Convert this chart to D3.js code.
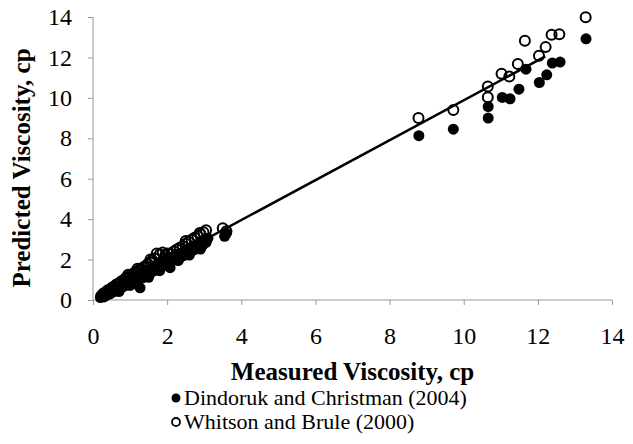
<!DOCTYPE html>
<html>
<head>
<meta charset="utf-8">
<script src="https://cdn.jsdelivr.net/npm/d3@7"></script>
<style>
  body { margin: 0; background: #fff; }
  svg, svg text { font-family: "Liberation Serif", "Times New Roman", serif; }
</style>
</head>
<body>
<div id="chart"></div>
<script>
// Dindoruk and Christman (2004) - filled markers [measured, predicted]
const dindoruk = [
  [0.20,0.12],[0.25,0.18],[0.30,0.15],[0.33,0.28],[0.38,0.25],[0.42,0.38],[0.46,0.30],[0.50,0.45],
  [0.55,0.40],[0.58,0.55],[0.62,0.48],[0.66,0.62],[0.70,0.55],[0.74,0.72],[0.78,0.62],[0.82,0.80],
  [0.86,0.70],[0.90,0.88],[0.94,0.78],[0.98,0.96],[1.02,0.85],[1.06,1.05],[1.10,0.92],[1.14,1.12],
  [1.18,1.00],[1.22,1.20],[1.27,0.60],[1.26,1.05],[1.30,1.25],[1.34,1.10],[1.38,1.35],[1.42,1.20],
  [1.46,1.45],[1.50,1.30],[1.54,1.52],[1.58,1.38],[1.62,1.62],[1.66,1.45],[1.70,1.70],[1.74,1.55],
  [1.78,1.78],[1.82,1.62],[1.86,1.88],[1.90,1.70],[1.94,1.95],[1.98,1.80],[2.02,2.02],[2.08,1.60],
  [2.06,1.88],[2.10,2.10],[2.15,1.95],[2.20,2.18],[2.25,2.02],[2.30,2.28],[2.35,2.10],[2.40,2.35],
  [2.45,2.20],[2.50,2.45],[2.55,2.30],[2.60,2.55],[2.65,2.40],[2.70,2.65],[2.75,2.50],[2.80,2.75],
  [2.85,2.60],[2.90,2.85],[2.95,2.70],[3.00,2.95],[3.05,2.85],[3.10,3.05],[3.55,3.15],[3.60,3.30],
  [0.70,0.42],[1.00,0.72],[1.50,1.12],[1.80,1.45],[2.30,1.95],[2.60,2.22],[2.90,2.52],[1.15,0.80],
  [8.79,8.13],[9.72,8.45],[10.66,9.57],[10.66,9.00],[11.04,10.02],[11.25,9.95],[11.49,10.43],
  [11.68,11.42],[12.04,10.76],[12.24,11.14],[12.39,11.72],[12.60,11.77],[13.30,12.92]
];

// Whitson and Brule (2000) - open markers [measured, predicted]
const whitson = [
  [0.22,0.20],[0.28,0.32],[0.34,0.38],[0.40,0.48],[0.46,0.52],[0.52,0.62],[0.58,0.68],[0.64,0.78],
  [0.70,0.82],[0.76,0.92],[0.82,0.98],[0.88,1.08],[0.94,1.12],[1.00,1.22],[1.06,1.28],[1.12,1.35],
  [1.18,1.40],[1.24,1.48],[1.30,1.52],[1.36,1.62],[1.42,1.68],[1.48,1.78],[1.54,1.85],[1.60,1.95],
  [1.66,2.05],[1.72,2.30],[1.80,2.25],[1.88,2.35],[1.95,2.22],[2.02,2.30],[2.10,2.28],[2.18,2.40],
  [2.26,2.50],[2.34,2.58],[2.42,2.66],[2.50,2.78],[2.58,2.88],[2.66,2.98],[2.74,3.08],[2.82,3.15],
  [2.90,3.25],[2.98,3.35],[3.05,3.45],[3.50,3.55],[3.60,3.40],
  [1.20,1.55],[1.55,2.00],[2.50,2.92],[2.88,3.32],[0.95,1.25],
  [8.78,9.00],[9.72,9.40],[10.65,10.56],[10.65,10.03],[11.02,11.19],[11.23,11.06],[11.46,11.68],
  [11.65,12.82],[12.03,12.08],[12.21,12.51],[12.37,13.12],[12.58,13.15],[13.29,13.99]
];

// trend line end points
const trend = [[0.2, 0.2], [12.2, 12.05]];

const xTicks = [0, 2, 4, 6, 8, 10, 12, 14];
const yTicks = [0, 2, 4, 6, 8, 10, 12, 14];
const legendLabels = ["Dindoruk and Christman (2004)", "Whitson and Brule (2000)"];

const width = 633, height = 444;
const margin = { left: 93, right: 21, top: 17, bottom: 144 };

const svg = d3.select("#chart").append("svg")
  .attr("width", width)
  .attr("height", height);

const x = d3.scaleLinear().domain([0, 14]).range([margin.left, width - margin.right]);
const y = d3.scaleLinear().domain([0, 14]).range([height - margin.bottom, margin.top]);

const xAxis = svg.append("g")
  .attr("transform", `translate(0,${y(0)})`)
  .call(d3.axisBottom(x).tickValues(xTicks).tickSize(5).tickPadding(22).tickFormat(d3.format("d")));

const yAxis = svg.append("g")
  .attr("transform", `translate(${x(0)},0)`)
  .call(d3.axisLeft(y).tickValues(yTicks).tickSize(5).tickPadding(16).tickFormat(d3.format("d")));

[xAxis, yAxis].forEach(g => {
  g.attr("font-family", null);
  g.select(".domain").attr("stroke", "#999").attr("stroke-width", 1);
  g.selectAll(".tick line").attr("stroke", "#999");
  g.selectAll(".tick text").attr("fill", "#000").attr("font-size", 24);
});
xAxis.select(".domain").attr("d", `M${x(0)},0H${x(14)}`);
yAxis.select(".domain").attr("d", `M0,${y(0)}V${y(14)}`);

svg.append("g")
  .selectAll("circle")
  .data(dindoruk)
  .join("circle")
  .attr("cx", d => x(d[0]))
  .attr("cy", d => y(d[1]))
  .attr("r", 5.5)
  .attr("fill", "#000");

svg.append("g")
  .selectAll("circle")
  .data(whitson)
  .join("circle")
  .attr("cx", d => x(d[0]))
  .attr("cy", d => y(d[1]))
  .attr("r", 5)
  .attr("fill", "none")
  .attr("stroke", "#000")
  .attr("stroke-width", 2);

svg.append("path")
  .datum(trend)
  .attr("fill", "none")
  .attr("stroke", "#000")
  .attr("stroke-width", 2.5)
  .attr("d", d3.line().x(d => x(d[0])).y(d => y(d[1])));

// axis titles
svg.append("text")
  .attr("x", (x(0) + x(14)) / 2)
  .attr("y", 380)
  .attr("text-anchor", "middle")
  .attr("font-size", 25)
  .attr("font-weight", "bold")
  .text("Measured Viscosity, cp");

svg.append("text")
  .attr("transform", `translate(30,168) rotate(-90)`)
  .attr("text-anchor", "middle")
  .attr("font-size", 25)
  .attr("font-weight", "bold")
  .text("Predicted Viscosity, cp");

// legend
const legend = svg.append("g").attr("font-size", 22);
legendLabels.forEach((lbl, i) => {
  const ly = 398 + i * 24;
  legend.append("circle")
    .attr("cx", 176).attr("cy", ly)
    .attr("r", i === 0 ? 4.5 : 4)
    .attr("fill", i === 0 ? "#000" : "#fff")
    .attr("stroke", "#000")
    .attr("stroke-width", i === 0 ? 0 : 1.8);
  legend.append("text")
    .attr("x", 184).attr("y", ly + 7)
    .text(lbl);
});
</script>
</body>
</html>
